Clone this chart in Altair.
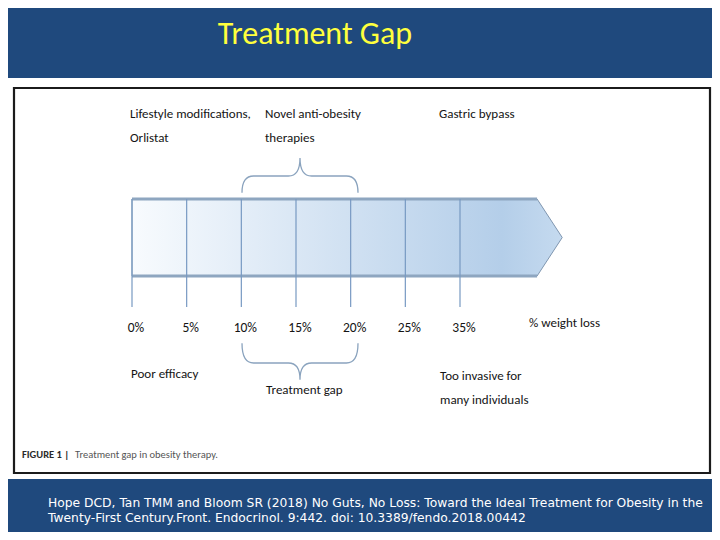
import altair as alt
import pandas as pd

# ---------------- data ----------------
slide_title = "Treatment Gap"
tick_labels = ["0%", "5%", "10%", "15%", "20%", "25%", "35%"]
tick_index = [0, 1, 2, 3, 4, 5, 6]
axis_title = "% weight loss"
top_notes = [["Lifestyle modifications,", "Orlistat"], ["Novel anti-obesity", "therapies"], ["Gastric bypass"]]
bottom_notes = [["Poor efficacy"], ["Treatment gap"], ["Too invasive for", "many individuals"]]
gap_start, gap_end = "10%", "20%"
# arrow outline in tick-index units (body end, tip) and relative half-height
arrow_x = [0, 7.41, 7.87]
arrow_half = [1, 1, 0]
caption_bold = "FIGURE 1 |"
caption_text = "Treatment gap in obesity therapy."
citation = [
    "Hope DCD, Tan TMM and Bloom SR (2018) No Guts, No Loss: Toward the Ideal Treatment for Obesity in the",
    "Twenty-First Century.Front. Endocrinol. 9:442. doi: 10.3389/fendo.2018.00442",
]

# ---------------- layout / style ----------------
W, H = 704, 524
BG = "#1f497d"
FIG_FONT = "Carlito, Lato, sans-serif"
FS = 13.5
FS_NOTE = 13
TXT = "#141414"
LINE = "#7799c2"
EDGE = "#8ea6c0"

xs = alt.Scale(domain=[0, 6], range=[124, 452])
ys = alt.Scale(domain=[-1, 1], range=[268, 191])
one = pd.DataFrame({"k": [0]})

panel = alt.Chart(one).mark_rect(fill="white").encode(
    x=alt.value(0), x2=alt.value(W), y=alt.value(70), y2=alt.value(471))
frame = alt.Chart(one).mark_rect(fill="white", stroke="#1b1b1b", strokeWidth=2.2).encode(
    x=alt.value(6), x2=alt.value(702), y=alt.value(80), y2=alt.value(465))

arrow_df = pd.DataFrame({"idx": arrow_x, "top": arrow_half, "bot": [-h for h in arrow_half]})
grad = alt.Gradient(
    gradient="linear",
    stops=[alt.GradientStop(color="#f8fbfe", offset=0),
           alt.GradientStop(color="#b4cee9", offset=0.86),
           alt.GradientStop(color="#c5daef", offset=1)],
    x1=0, x2=1, y1=0, y2=0)
arrow = alt.Chart(arrow_df).mark_area(color=grad, stroke="#7f96b0", strokeWidth=1, interpolate="linear").encode(
    x=alt.X("idx:Q", scale=xs, axis=None),
    y=alt.Y("top:Q", scale=ys, axis=None),
    y2="bot:Q")

edge_df = pd.DataFrame({"a": [arrow_x[0], arrow_x[0]], "b": [arrow_x[1], arrow_x[1]], "h": [1, -1]})
edges = alt.Chart(edge_df).mark_rule(color=EDGE, strokeWidth=3).encode(
    x=alt.X("a:Q", scale=xs, axis=None), x2="b:Q",
    y=alt.Y("h:Q", scale=ys, axis=None))

ticks_df = pd.DataFrame({"idx": tick_index, "label": tick_labels})
tick_lines = alt.Chart(ticks_df).mark_rule(color=LINE, strokeWidth=1.2).encode(
    x=alt.X("idx:Q", scale=xs, axis=None), y=alt.value(191), y2=alt.value(299))
tick_text = alt.Chart(ticks_df).mark_text(
    font=FIG_FONT, fontSize=FS, color=TXT, dx=4, baseline="alphabetic").encode(
    x=alt.X("idx:Q", scale=xs, axis=None), y=alt.value(324), text="label:N")
weight_text = alt.Chart(one).mark_text(
    font=FIG_FONT, fontSize=FS_NOTE, color=TXT, align="left", baseline="alphabetic").encode(
    x=alt.value(521), y=alt.value(319), text=alt.value(axis_title))

gap_mid = (tick_labels.index(gap_start) + tick_labels.index(gap_end)) / 2
brace_df = pd.DataFrame({"idx": [gap_mid]})
top_path = "M -1 0.29 Q -1 0 -0.8 0 L -0.2 0 Q 0 0 0 -0.31 Q 0 0 0.2 0 L 0.8 0 Q 1 0 1 0.29"
bot_path = "M -1 -0.34 Q -1 0 -0.8 0 L -0.2 0 Q 0 0 0 0.29 Q 0 0 0.2 0 L 0.8 0 Q 1 0 1 -0.34"
brace_top = alt.Chart(brace_df).mark_point(
    shape=top_path, size=116 * 116, filled=False, stroke="#8aa3be", strokeWidth=1.3,
    opacity=1, xOffset=4).encode(x=alt.X("idx:Q", scale=xs, axis=None), y=alt.value(168))
brace_bot = alt.Chart(brace_df).mark_point(
    shape=bot_path, size=116 * 116, filled=False, stroke="#8aa3be", strokeWidth=1.3,
    opacity=1, xOffset=4).encode(x=alt.X("idx:Q", scale=xs, axis=None), y=alt.value(355))

def note(lines, x, y):
    return alt.Chart(one).mark_text(
        font=FIG_FONT, fontSize=FS_NOTE, color=TXT, align="left", baseline="alphabetic",
        lineHeight=24, text=lines).encode(x=alt.value(x), y=alt.value(y))

notes = [
    note(top_notes[0], 122, 110),
    note(top_notes[1], 257, 110),
    note(top_notes[2], 431, 110),
    note(bottom_notes[0], 123, 370),
    note(bottom_notes[1], 258, 386),
    note(bottom_notes[2], 432, 372),
]

title = alt.Chart(one).mark_text(
    font="Carlito, Lato, sans-serif", fontSize=32, color="#ffff3d", align="center",
    baseline="alphabetic").encode(x=alt.value(307), y=alt.value(36), text=alt.value(slide_title))

cap1 = alt.Chart(one).mark_text(
    font=FIG_FONT, fontSize=10.5, fontWeight="bold", color="#2a2a2a", align="left",
    baseline="alphabetic").encode(x=alt.value(14), y=alt.value(450), text=alt.value(caption_bold))
cap2 = alt.Chart(one).mark_text(
    font=FIG_FONT, fontSize=10.5, color="#555555", align="left",
    baseline="alphabetic").encode(x=alt.value(67), y=alt.value(450), text=alt.value(caption_text))

cite = alt.Chart(one).mark_text(
    font="DejaVu Sans, Verdana, sans-serif", fontSize=12.3, color="white", align="left",
    baseline="alphabetic", lineHeight=15, text=citation).encode(x=alt.value(40), y=alt.value(499))

chart = alt.layer(
    panel, frame, arrow, edges, tick_lines, tick_text, weight_text, brace_top, brace_bot,
    *notes, title, cap1, cap2, cite
).properties(
    width=W, height=H, background=BG, padding=0, autosize=alt.AutoSizeParams(type="none")
).configure_view(stroke=None)

chart.save("out.html", embed_options={"renderer": "svg", "actions": False})
